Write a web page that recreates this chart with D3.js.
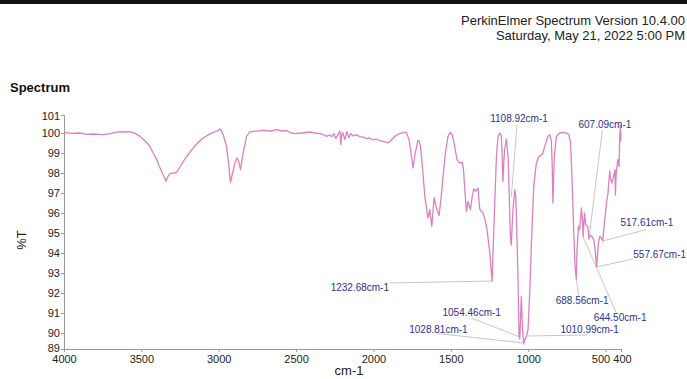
<!DOCTYPE html>
<html>
<head>
<meta charset="utf-8">
<script src="https://cdn.jsdelivr.net/npm/d3@7"></script>
<style>
  body { margin: 0; background: #fff; overflow: hidden; }
  svg { display: block; font-family: "Liberation Sans", Arial, sans-serif; }
</style>
</head>
<body>
<svg id="chart" width="687" height="379"></svg>
<script>
// spectrum (wavenumber cm-1, %T)
var wavenumbers = [4000,3950,3897,3850,3811,3750,3703,3670,3638,3600,3574,3540,3509,3475,3445,3420,3401,3385,3369,3350,3341,3330,3315,3290,3272,3250,3229,3195,3165,3130,3100,3065,3036,3010,2992,2982,2971,2960,2950,2938,2924,2910,2896,2881,2870,2859,2845,2820,2800,2777,2713,2660,2626,2590,2562,2530,2508,2460,2411,2380,2347,2320,2303,2285,2269,2256,2243,2230,2217,2211,2204,2198,2185,2172,2159,2146,2130,2110,2090,2067,2045,2024,2000,1980,1960,1938,1920,1905,1890,1873,1850,1830,1800,1787,1770,1755,1744,1730,1712,1705,1696,1680,1668,1655,1647,1636,1623,1608,1593,1576,1565,1550,1535,1518,1503,1490,1481,1470,1460,1450,1442,1425,1417,1408,1399,1389,1373,1362,1352,1339,1324,1313,1292,1280,1266,1248,1240,1233,1225,1216,1205,1195,1184,1173,1168,1163,1157,1152,1141,1130,1122,1115,1109,1103,1098,1087,1080,1076,1066,1059,1054,1047,1044,1037,1029,1021,1011,1001,990,979,964,947,930,908,893,872,861,850,845,840,835,831,818,797,765,737,726,717,706,697,689,684,675,667,656,649,644.5,636,628,615,607,600,589,576,567,558,546,537,527,518,505,494,484,473,469,458,448,439,436,432,421,412,409,404,402,400];
var transmittance = [100.03,99.98,100.0,99.93,99.95,99.92,99.97,100.02,100.07,100.05,100.07,99.98,99.83,99.6,99.33,98.95,98.67,98.35,98.08,97.75,97.58,97.8,97.97,98.0,98.03,98.3,98.58,98.95,99.25,99.55,99.75,99.92,100.03,100.1,100.2,100.1,99.92,99.6,99.33,98.6,97.53,98.0,98.5,98.75,98.55,98.17,98.9,99.83,100.05,100.08,100.13,100.1,100.17,100.1,100.12,100.0,99.97,100.0,100.05,100.0,99.97,99.9,99.83,99.9,99.82,99.97,99.72,99.92,100.09,99.42,99.95,100.02,99.67,100.07,99.77,99.97,99.85,99.92,99.82,99.8,99.72,99.75,99.65,99.7,99.62,99.58,99.55,99.5,99.6,99.75,99.9,99.97,100.03,100.03,99.67,98.9,98.25,99.0,99.63,99.6,99.33,98.0,96.83,96.1,95.75,96.17,95.33,96.75,96.25,95.87,96.6,97.83,99.0,99.83,100.03,99.9,99.58,99.1,98.67,98.55,98.5,98.53,98.08,97.0,96.08,96.58,96.17,96.8,97.2,97.08,97.25,96.2,96.0,95.7,95.17,94.0,93.2,92.6,94.5,96.5,98.8,99.83,100.0,99.83,98.8,97.58,98.6,99.17,99.7,98.83,96.8,94.83,94.4,95.4,96.17,97.17,96.8,95.83,92.83,89.83,89.7,91.2,91.83,90.33,89.45,89.67,89.83,90.17,92.0,94.5,97.33,98.5,98.83,98.92,99.33,99.83,99.92,99.6,98.5,96.5,97.8,98.83,99.83,100.0,100.03,99.92,99.5,97.83,95.17,93.33,92.7,94.17,95.33,95.17,96.25,95.67,94.8,96.0,95.42,95.33,94.7,94.9,94.83,94.67,94.17,93.3,94.5,94.83,94.75,94.6,95.67,96.5,97.0,98.1,97.75,97.5,97.83,98.17,96.9,97.9,98.67,98.33,99.67,100.4,99.6,100.0];

var xTicks = [4000,3500,3000,2500,2000,1500,1000,500,400];
var yTicks = [89.2,90,91,92,93,94,95,96,97,98,99,100,100.9];

// peak annotations: peak position, end of leader on the curve, leader start and label centre (data units)
var peakNames = ["1232.68cm-1","1108.92cm-1","1054.46cm-1","1028.81cm-1","1010.99cm-1","688.56cm-1","644.50cm-1","607.09cm-1","557.67cm-1","517.61cm-1"];
var peakWn    = [1232.68,1108.92,1054.46,1028.81,1010.99,688.56,644.50,607.09,557.67,517.61];
var peakT     = [92.6,96.8,89.8,89.5,89.85,92.7,94.8,94.7,93.3,94.6];
var lineWn    = [1894,1072,1367,1582,616,674,430,521,323,237];
var lineT     = [92.5,100.42,90.75,89.97,89.9,91.87,91.0,100.13,93.7,95.17];
var labelWn   = [2088,1059,1365,1580,603,651,406,504,150,233];
var labelT    = [92.25,100.67,91.0,90.12,90.12,91.57,90.72,100.37,93.88,95.47];

var svg = d3.select("#chart");

var x = d3.scaleLinear().domain([4000, 400]).range([64, 621]);
var y = d3.scaleLinear().domain([89.2, 100.9]).range([349, 115]);

// header
svg.append("rect").attr("x", 0).attr("y", 0).attr("width", 687).attr("height", 4).attr("fill", "#111");
svg.append("text").attr("x", 685).attr("y", 25).attr("text-anchor", "end").attr("font-size", "13px").attr("fill", "#222")
  .text("PerkinElmer Spectrum Version 10.4.00");
svg.append("text").attr("x", 685).attr("y", 40).attr("text-anchor", "end").attr("font-size", "13px").attr("fill", "#222")
  .text("Saturday, May 21, 2022 5:00 PM");
svg.append("text").attr("x", 10).attr("y", 92).attr("font-size", "13px").attr("font-weight", "bold").attr("fill", "#111")
  .text("Spectrum");

// axes
var xAxis = svg.append("g")
  .attr("transform", "translate(0,349)")
  .call(d3.axisBottom(x).tickValues(xTicks).tickFormat(d3.format("d")).tickSize(3).tickPadding(3));
var yAxis = svg.append("g")
  .attr("transform", "translate(64,0)")
  .call(d3.axisLeft(y).tickValues(yTicks).tickFormat(d3.format(".0f")).tickSize(3).tickPadding(1));

[xAxis, yAxis].forEach(function(g) {
  g.select(".domain").attr("stroke", "#999");
  g.selectAll(".tick line").attr("stroke", "#999");
  g.selectAll(".tick text").attr("fill", "#222").attr("font-size", "11px")
    .attr("font-family", "Liberation Sans, Arial, sans-serif");
});
// 500 and 400 sit next to each other, as in the print-out
xAxis.selectAll(".tick text").attr("dx", function(d) { return d === 500 ? -5 : (d === 400 ? 1 : 0); });
yAxis.selectAll(".tick text").attr("dy", function(d) { return d === 89.2 ? "0.2em" : (d === 100.9 ? "0.4em" : "0.32em"); });

svg.append("text").attr("x", 349).attr("y", 375).attr("text-anchor", "middle")
  .attr("font-size", "13px").attr("fill", "#222").text("cm-1");
svg.append("text").attr("transform", "translate(26,240) rotate(-90)").attr("text-anchor", "middle")
  .attr("font-size", "13px").attr("fill", "#222").text("%T");

// spectrum line
var line = d3.line()
  .x(function(d, i) { return x(wavenumbers[i]); })
  .y(function(d, i) { return y(transmittance[i]); });

svg.append("path")
  .datum(wavenumbers)
  .attr("d", line)
  .attr("fill", "none")
  .attr("stroke", "#dc80c0")
  .attr("stroke-width", 1.3)
  .attr("stroke-linejoin", "round");

// annotations
var ann = svg.append("g");
peakNames.forEach(function(name, i) {
  ann.append("line")
    .attr("x1", x(lineWn[i])).attr("y1", y(lineT[i]))
    .attr("x2", x(peakWn[i])).attr("y2", y(peakT[i]))
    .attr("stroke", "#b8b8b8").attr("stroke-width", 0.8);
  ann.append("text")
    .attr("x", x(labelWn[i])).attr("y", y(labelT[i]))
    .attr("text-anchor", "middle").attr("dominant-baseline", "middle")
    .attr("font-size", "10px").attr("fill", "#2e3192")
    .text(name);
});
</script>
</body>
</html>
